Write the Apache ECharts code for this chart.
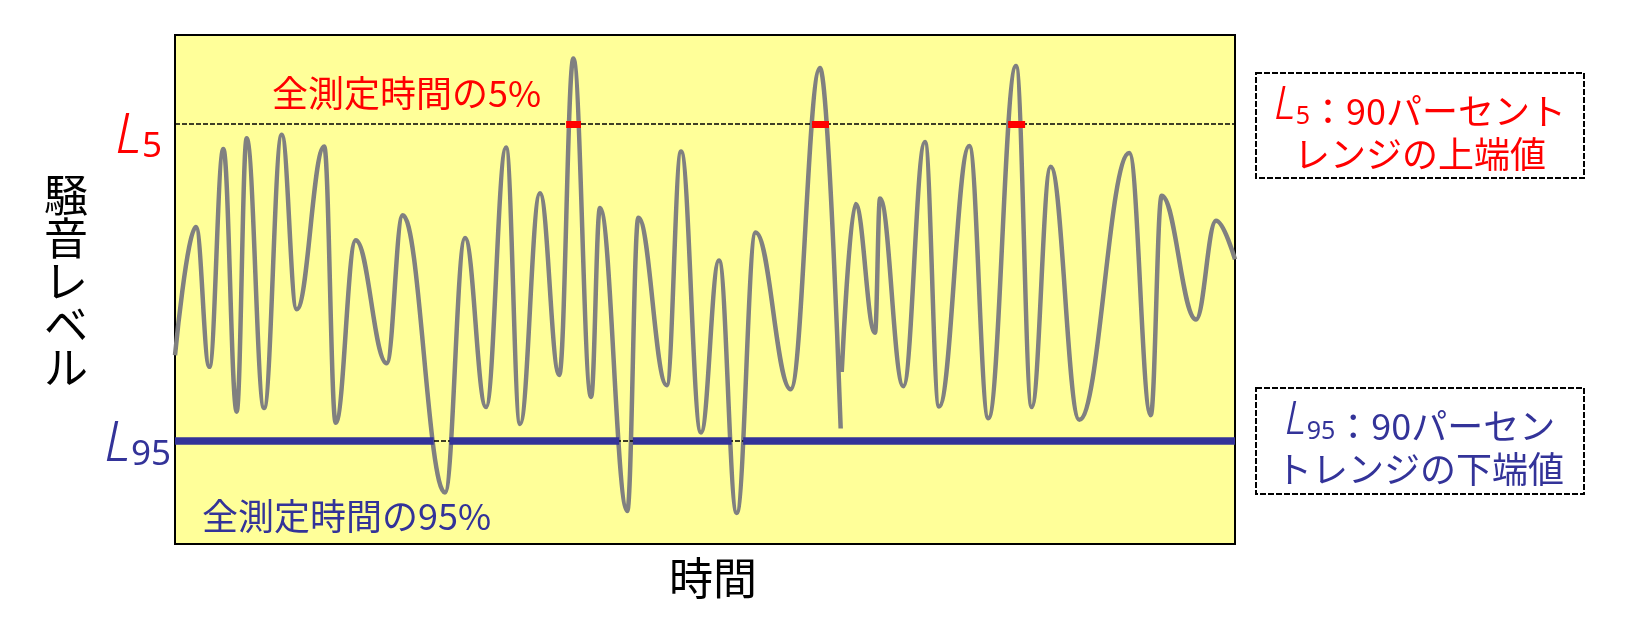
<!DOCTYPE html>
<html>
<head>
<meta charset="utf-8">
<script src="https://cdn.jsdelivr.net/npm/echarts@6/dist/echarts.min.js"></script>
<style>
html,body{margin:0;padding:0;background:#fff;}
#chart{width:1630px;height:619px;}
</style>
</head>
<body>
<div id="chart"></div>
<script>
// time (arbitrary units 0-100) and noise level (arbitrary units 0-100) at the wave's turning points
const times  = [0, 1.98, 3.24, 4.56, 5.82, 6.76, 8.40, 10.07, 11.48, 14.08, 15.16, 17.05, 19.97, 21.48, 25.47, 27.36, 29.34, 31.23, 32.55, 34.43, 36.25, 37.58, 39.25, 40.09, 42.67, 43.71, 46.39, 47.74, 49.62, 51.32, 52.99, 54.78, 58.08, 60.85, 62.80, 62.85, 62.90, 64.20, 66.04, 66.51, 68.71, 70.75, 72.08, 74.93, 76.73, 79.34, 80.82, 82.61, 85.31, 90.03, 92.05, 93.08, 96.32, 98.21, 100];
const levels = [37.1, 62.3, 34.8, 77.6, 26.0, 79.7, 26.7, 80.4, 46.1, 78.1, 23.8, 59.7, 35.5, 64.6, 10.1, 60.1, 26.9, 77.9, 23.6, 68.9, 33.2, 95.4, 28.9, 66.0, 6.5, 64.1, 31.2, 77.1, 21.9, 55.7, 6.1, 61.2, 30.4, 93.5, 22.7, null, 33.8, 66.8, 41.5, 67.9, 31.0, 79.0, 27.0, 78.2, 24.7, 93.9, 26.9, 74.1, 24.4, 76.8, 25.3, 68.4, 44.1, 63.5, 55.9];
const L5 = 82.5;
const L95 = 20.2;
// stretches of time where the level is above L5 (red marks)
const l5Exceed = [[36.9, 38.3], [60.1, 61.7], [78.6, 80.2]];
// stretches of the L95 line drawn in blue (gaps where the level dips below)
const l95Segments = [[0, 24.4], [25.9, 41.9], [43.2, 52.5], [53.6, 100]];

const yTitle = '騒音レベル';
const xTitle = '時間';
const note5 = '全測定時間の5%';
const note95 = '全測定時間の95%';

const RED = '#FF0000';
const BLUE = '#333399';
const CJK = '"Noto Sans CJK JP", "Noto Sans", sans-serif';

const chart = echarts.init(document.getElementById('chart'), null, {renderer: 'canvas'});

const wave = times.map((t, i) => [t, levels[i]]);

const hidden = {
  axisLine: {show: false}, axisTick: {show: false},
  axisLabel: {show: false}, splitLine: {show: false}
};

chart.setOption({
  animation: false,
  backgroundColor: '#ffffff',
  grid: {
    left: 175, top: 35, width: 1060, height: 509,
    show: true, backgroundColor: '#FFFF99', borderColor: '#000', borderWidth: 2
  },
  xAxis: Object.assign({type: 'value', min: 0, max: 100}, hidden),
  yAxis: Object.assign({type: 'value', min: 0, max: 100}, hidden),
  series: [
    {
      type: 'line', data: [], z: 1, silent: true,
      markLine: {
        silent: true, symbol: ['none', 'none'], label: {show: false},
        lineStyle: {color: '#000', width: 1.5, type: [5, 2]},
        data: [{yAxis: L5}, {yAxis: L95}]
      }
    },
    {
      type: 'line', data: wave, z: 2, silent: true,
      smooth: 0.4, smoothMonotone: 'x', connectNulls: false,
      showSymbol: false, symbol: 'none',
      lineStyle: {color: '#808080', width: 4.5}
    },
    {
      type: 'line', data: [], z: 3, silent: true,
      markLine: {
        silent: true, symbol: ['none', 'none'], label: {show: false},
        lineStyle: {color: BLUE, width: 7.5, type: 'solid', cap: 'butt'},
        data: l95Segments.map(s => [{coord: [s[0], L95]}, {coord: [s[1], L95]}])
      }
    },
    {
      type: 'line', data: [], z: 4, silent: true,
      markLine: {
        silent: true, symbol: ['none', 'none'], label: {show: false},
        lineStyle: {color: RED, width: 7, type: 'solid', cap: 'butt'},
        data: l5Exceed.map(s => [{coord: [s[0], L5]}, {coord: [s[1], L5]}])
      }
    }
  ]
});

const y5 = chart.convertToPixel({gridIndex: 0}, [0, L5])[1];
const y95 = chart.convertToPixel({gridIndex: 0}, [0, L95])[1];

const richL = (color, big, small) => ({
  L: {fontFamily: '"Noto Sans", sans-serif', fontStyle: 'italic', fontWeight: 300, fontSize: big, fill: color, verticalAlign: 'bottom', lineHeight: big},
  s: {fontFamily: '"Noto Sans", sans-serif', fontSize: small, fill: color, verticalAlign: 'bottom', lineHeight: small + 6}
});

function boxText(color, line1rest, sub, line2) {
  const r = richL(color, 45, 25);
  r.n = {fontFamily: CJK, fontSize: 36, fill: color, verticalAlign: 'bottom', lineHeight: 43};
  return {
    text: '{L|L}{s|' + sub + '}{n|' + line1rest + '}\n{n|' + line2 + '}',
    rich: r
  };
}

const b1 = boxText(RED, '：90パーセント', '5', 'レンジの上端値');
const b2 = boxText(BLUE, '：90パーセン', '95', 'トレンジの下端値');

chart.setOption({
  graphic: [
    // y axis title
    {type: 'text', x: 66, y: 281, silent: true,
     style: {text: yTitle.split('').join('\n'), font: '44px ' + CJK, fill: '#000',
             align: 'center', verticalAlign: 'middle', lineHeight: 43}},
    // x axis title
    {type: 'text', x: 713, y: 578, silent: true,
     style: {text: xTitle, font: '44px ' + CJK, fill: '#000', align: 'center', verticalAlign: 'middle'}},
    // L5 / L95 side labels
    {type: 'text', x: 162, y: y5 + 13, silent: true,
     style: {text: '{L|L}{s|5}', rich: richL(RED, 55, 35), align: 'right', verticalAlign: 'middle'}},
    {type: 'text', x: 171, y: y95 + 4, silent: true,
     style: {text: '{L|L}{s|95}', rich: richL(BLUE, 55, 35), align: 'right', verticalAlign: 'middle'}},
    // notes inside plot
    {type: 'text', x: 272, y: 93, silent: true,
     style: {text: note5, font: '36px ' + CJK, fill: RED, align: 'left', verticalAlign: 'middle'}},
    {type: 'text', x: 202, y: 516, silent: true,
     style: {text: note95, font: '36px ' + CJK, fill: BLUE, align: 'left', verticalAlign: 'middle'}},
    // legend-like boxes
    {type: 'rect', silent: true, shape: {x: 1256, y: 73, width: 328, height: 105},
     style: {fill: '#fff', stroke: '#000', lineWidth: 2, lineDash: [6, 2]}},
    {type: 'text', x: 1420, y: 128, silent: true,
     style: Object.assign(b1, {align: 'center', verticalAlign: 'middle'})},
    {type: 'rect', silent: true, shape: {x: 1256, y: 388, width: 328, height: 106},
     style: {fill: '#fff', stroke: '#000', lineWidth: 2, lineDash: [6, 2]}},
    {type: 'text', x: 1420, y: 443, silent: true,
     style: Object.assign(b2, {align: 'center', verticalAlign: 'middle'})}
  ]
});
</script>
</body>
</html>
